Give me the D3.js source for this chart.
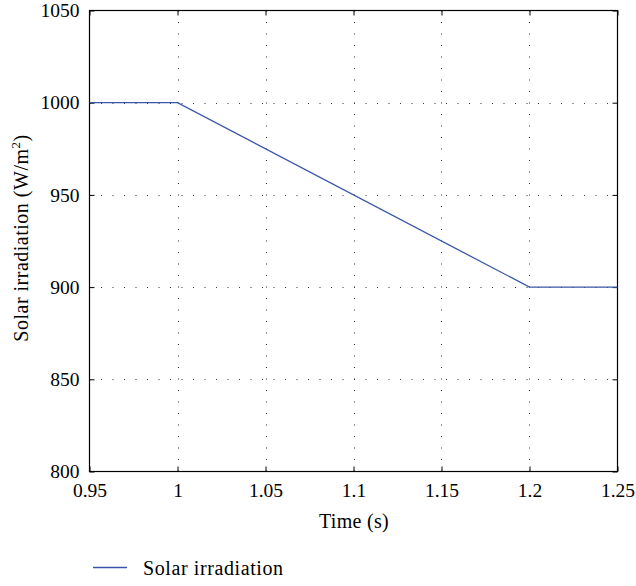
<!DOCTYPE html>
<html>
<head>
<meta charset="utf-8">
<script src="https://cdn.jsdelivr.net/npm/d3@7"></script>
<style>
  html, body { margin: 0; padding: 0; background: #fff; }
  svg { display: block; font-family: "Liberation Serif", "DejaVu Serif", serif; }
</style>
</head>
<body>
<svg id="chart" width="636" height="586"></svg>
<script>
// Irradiance profile: constant, linear ramp down, constant
const timeS = [0.95, 1.0, 1.2, 1.25];
const irradiance = [1000, 1000, 900, 900];
const xTicks = [0.95, 1, 1.05, 1.1, 1.15, 1.2, 1.25];
const yTicks = [800, 850, 900, 950, 1000, 1050];
const seriesName = "Solar irradiation";

const svg = d3.select("#chart");
const plot = { left: 89.5, right: 617.5, top: 10.5, bottom: 471.5 };

const x = d3.scaleLinear().domain([0.95, 1.25]).range([plot.left, plot.right]);
const y = d3.scaleLinear().domain([800, 1050]).range([plot.bottom, plot.top]);

const fmt = d => String(+d.toFixed(2));

// dotted grid
const grid = svg.append("g").attr("stroke", "#333").attr("stroke-width", 1)
  .attr("stroke-dasharray", "1,10.5");
grid.selectAll("line.gx").data(xTicks.slice(1, -1)).join("line")
  .attr("x1", d => Math.round(x(d)) + 0.5).attr("x2", d => Math.round(x(d)) + 0.5)
  .attr("y1", plot.bottom).attr("y2", plot.top);
grid.selectAll("line.gy").data(yTicks.slice(1, -1)).join("line")
  .attr("y1", d => Math.round(y(d)) + 0.5).attr("y2", d => Math.round(y(d)) + 0.5)
  .attr("x1", plot.left).attr("x2", plot.right);

// axes with inward ticks on all four sides
const axStyle = g => {
  g.select(".domain").remove();
  g.selectAll(".tick line").attr("stroke", "#000");
  g.selectAll(".tick text").attr("fill", "#000").attr("font-size", 19.5)
    .attr("font-family", "Liberation Serif, DejaVu Serif, serif");
};
svg.append("g").attr("transform", `translate(0,${plot.bottom})`)
  .call(d3.axisBottom(x).tickValues(xTicks).tickFormat(fmt).tickSizeInner(-5).tickSizeOuter(0).tickPadding(12))
  .call(axStyle);
svg.append("g").attr("transform", `translate(0,${plot.top})`)
  .call(d3.axisTop(x).tickValues(xTicks).tickFormat("").tickSizeInner(-5).tickSizeOuter(0))
  .call(axStyle);
svg.append("g").attr("transform", `translate(${plot.left},0)`)
  .call(d3.axisLeft(y).tickValues(yTicks).tickFormat(d3.format("d")).tickSizeInner(-5).tickSizeOuter(0).tickPadding(10))
  .call(axStyle);
svg.append("g").attr("transform", `translate(${plot.right},0)`)
  .call(d3.axisRight(y).tickValues(yTicks).tickFormat("").tickSizeInner(-5).tickSizeOuter(0))
  .call(axStyle);

// frame
svg.append("rect")
  .attr("x", plot.left).attr("y", plot.top)
  .attr("width", plot.right - plot.left).attr("height", plot.bottom - plot.top)
  .attr("fill", "none").attr("stroke", "#000").attr("stroke-width", 1.2);

// data line
const pts = timeS.map((t, i) => [t, irradiance[i]]);
svg.append("path").datum(pts)
  .attr("fill", "none").attr("stroke", "#3a56a8").attr("stroke-width", 1.3)
  .attr("d", d3.line().x(d => x(d[0])).y(d => y(d[1])));

// axis titles
svg.append("text").attr("x", 354).attr("y", 528)
  .attr("text-anchor", "middle").attr("font-size", 20).attr("letter-spacing", 0.3)
  .text("Time (s)");

const yl = svg.append("text")
  .attr("transform", `translate(28,238) rotate(-90)`)
  .attr("text-anchor", "middle").attr("font-size", 20).attr("letter-spacing", 0.5);
yl.append("tspan").text("Solar irradiation (W/m");
yl.append("tspan").attr("font-size", 13).attr("dy", -8).text("2");
yl.append("tspan").attr("dy", 8).text(")");

// legend
const lg = svg.append("g").attr("transform", "translate(93,567.5)");
lg.append("line").attr("x1", 0).attr("x2", 34).attr("y1", 0).attr("y2", 0)
  .attr("stroke", "#3a56a8").attr("stroke-width", 1.3);
lg.append("text").attr("x", 50).attr("y", 7).attr("font-size", 20).attr("letter-spacing", 0.6)
  .text(seriesName);
</script>
</body>
</html>
